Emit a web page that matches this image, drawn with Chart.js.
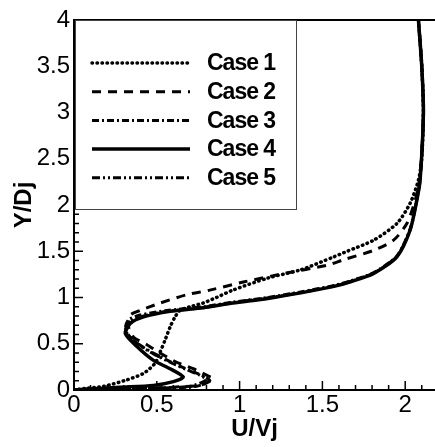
<!DOCTYPE html>
<html>
<head>
<meta charset="utf-8">
<script src="https://cdn.jsdelivr.net/npm/chart.js@4"></script>
<style>
  html, body { margin: 0; padding: 0; background: #fff; overflow: hidden; }
  #wrap { width: 435px; height: 447px; }
</style>
</head>
<body>
<div id="wrap"><canvas id="profileChart"></canvas></div>
<script>
// tick values
const xMajor = [0, 0.5, 1, 1.5, 2];
const yMajor = [0, 0.5, 1, 1.5, 2, 2.5, 3, 3.5, 4];
const caseNames = ['Case 1', 'Case 2', 'Case 3', 'Case 4', 'Case 5'];

// Case 1 (dotted)
const case1U = [0, 0.08, 0.18, 0.32, 0.42, 0.49, 0.52, 0.55, 0.58, 0.61, 0.64, 0.70, 0.78, 0.86, 0.96, 1.17, 1.37, 1.57, 1.65, 1.81, 1.95, 2.03, 2.08, 2.10, 2.11, 2.10, 2.08];
const case1Y = [0, 0.02, 0.04, 0.11, 0.18, 0.29, 0.41, 0.54, 0.68, 0.79, 0.86, 0.90, 0.94, 1.00, 1.08, 1.21, 1.30, 1.44, 1.50, 1.62, 1.80, 2.02, 2.27, 2.5, 3.0, 3.5, 4.0];

// Case 2 (dashed)
const case2U = [0, 0.3, 0.5, 0.64, 0.76, 0.84, 0.80, 0.72, 0.62, 0.52, 0.44, 0.36, 0.33, 0.34, 0.40, 0.52, 0.68, 0.82, 1.03, 1.27, 1.53, 1.63, 1.81, 1.93, 2.01, 2.06, 2.09, 2.11, 2.10, 2.08];
const case2Y = [0, 0.01, 0.02, 0.035, 0.05, 0.12, 0.16, 0.23, 0.30, 0.40, 0.49, 0.57, 0.68, 0.81, 0.86, 0.94, 1.03, 1.08, 1.17, 1.26, 1.35, 1.41, 1.51, 1.62, 1.80, 2.05, 2.3, 3.0, 3.5, 4.0];

// Case 3 (dash-dot)
const case3U = [0, 0.2, 0.5, 0.74, 0.82, 0.78, 0.70, 0.60, 0.50, 0.42, 0.35, 0.31, 0.33, 0.40, 0.56, 0.78, 0.96, 1.17, 1.37, 1.57, 1.67, 1.81, 1.95, 2.03, 2.07, 2.09, 2.11, 2.10, 2.08];
const case3Y = [0, 0.01, 0.02, 0.04, 0.10, 0.15, 0.21, 0.29, 0.38, 0.46, 0.55, 0.66, 0.76, 0.81, 0.86, 0.90, 0.95, 1.00, 1.06, 1.13, 1.18, 1.27, 1.45, 1.74, 2.06, 2.28, 3.0, 3.5, 4.0];

// Case 4 (solid)
const case4U = [0, 0.08, 0.28, 0.48, 0.60, 0.66, 0.58, 0.48, 0.38, 0.31, 0.34, 0.42, 0.58, 0.78, 0.96, 1.17, 1.37, 1.57, 1.67, 1.81, 1.95, 2.03, 2.07, 2.09, 2.11, 2.10, 2.08];
const case4Y = [0, 0.01, 0.03, 0.05, 0.09, 0.14, 0.23, 0.32, 0.47, 0.61, 0.72, 0.79, 0.85, 0.89, 0.94, 0.99, 1.05, 1.12, 1.17, 1.26, 1.44, 1.73, 2.05, 2.27, 3.0, 3.5, 4.0];

// Case 5 (dash-dot-dot)
const case5U = [0, 0.2, 0.48, 0.70, 0.80, 0.76, 0.68, 0.58, 0.48, 0.40, 0.34, 0.31, 0.34, 0.42, 0.58, 0.78, 0.96, 1.17, 1.37, 1.57, 1.67, 1.81, 1.95, 2.03, 2.07, 2.09, 2.11, 2.10, 2.08];
const case5Y = [0, 0.01, 0.02, 0.04, 0.11, 0.16, 0.22, 0.30, 0.39, 0.48, 0.57, 0.65, 0.74, 0.80, 0.855, 0.89, 0.945, 0.995, 1.055, 1.125, 1.175, 1.265, 1.445, 1.735, 2.055, 2.275, 3.0, 3.5, 4.0];

function pts(us, ys) {
  return us.map((u, i) => ({ x: u, y: ys[i] }));
}

const styles = [
  { dash: [0.5, 4.5], cap: 'round', width: 3.5 },
  { dash: [9, 7], cap: 'butt', width: 3 },
  { dash: [7, 3, 2, 3], cap: 'butt', width: 3 },
  { dash: [], cap: 'butt', width: 3.5 },
  { dash: [8, 3, 2, 3, 2, 3], cap: 'butt', width: 3 }
];
const allU = [case1U, case2U, case3U, case4U, case5U];
const allY = [case1Y, case2Y, case3Y, case4Y, case5Y];

const datasets = caseNames.map((name, i) => ({
  label: name,
  data: pts(allU[i], allY[i]),
  showLine: true,
  borderColor: '#000',
  borderWidth: styles[i].width,
  borderDash: styles[i].dash,
  borderCapStyle: styles[i].cap,
  pointRadius: 0,
  tension: 0.25,
  fill: false
}));

// inward ticks, top frame line and boxed legend
const framePlugin = {
  id: 'frame',
  afterDraw(chart) {
    const { ctx, chartArea: a, scales } = chart;
    const xs = scales.x, ys = scales.y;
    ctx.save();
    ctx.strokeStyle = '#000';
    ctx.lineWidth = 1.5;
    for (let k = 0; k <= 22; k++) {
      const v = k / 10;
      if (v > xs.max) break;
      const px = xs.getPixelForValue(v);
      const len = k % 5 === 0 ? 9 : 5;
      ctx.beginPath();
      ctx.moveTo(px, a.bottom);
      ctx.lineTo(px, a.bottom - len);
      ctx.stroke();
    }
    for (let k = 0; k <= 40; k++) {
      const py = ys.getPixelForValue(k / 10);
      const len = k % 5 === 0 ? 9 : 5;
      ctx.beginPath();
      ctx.moveTo(a.left, py);
      ctx.lineTo(a.left + len, py);
      ctx.stroke();
    }
    ctx.lineWidth = 2;
    ctx.beginPath();
    ctx.moveTo(a.left, a.top);
    ctx.lineTo(a.right, a.top);
    ctx.stroke();

    // legend box
    const bx = a.left + 1, by = a.top, bw = 221, bh = 189;
    ctx.fillStyle = '#fff';
    ctx.fillRect(bx, by, bw, bh);
    ctx.strokeStyle = '#444';
    ctx.lineWidth = 1;
    ctx.strokeRect(bx + 0.5, by + 0.5, bw, bh);
    chart.data.datasets.forEach((ds, i) => {
      const cy = by + 43 + i * 28.7;
      ctx.strokeStyle = '#000';
      ctx.lineWidth = ds.borderWidth;
      ctx.lineCap = ds.borderCapStyle;
      ctx.setLineDash(ds.borderDash);
      ctx.beginPath();
      ctx.moveTo(bx + 17, cy);
      ctx.lineTo(bx + 115, cy);
      ctx.stroke();
      ctx.setLineDash([]);
      ctx.fillStyle = '#000';
      ctx.font = 'bold 23px "Liberation Sans", Arial, sans-serif';
      if ('letterSpacing' in ctx) ctx.letterSpacing = '-1px';
      ctx.textBaseline = 'middle';
      ctx.textAlign = 'left';
      ctx.fillText(ds.label, bx + 132, cy + 1);
      if ('letterSpacing' in ctx) ctx.letterSpacing = '0px';
    });
    ctx.restore();
  }
};

const tickFont = { family: '"Liberation Sans", Arial, sans-serif', size: 24, lineHeight: 1 };
const titleFont = { family: '"Liberation Sans", Arial, sans-serif', size: 24, weight: 'bold' };

new Chart(document.getElementById('profileChart'), {
  type: 'scatter',
  data: { datasets },
  options: {
    responsive: true,
    maintainAspectRatio: false,
    animation: false,
    layout: { padding: { top: 20, right: 0, left: 0, bottom: 0 } },
    plugins: { legend: { display: false }, tooltip: { enabled: false } },
    scales: {
      x: {
        type: 'linear',
        min: 0,
        max: 2.18,
        afterBuildTicks: s => { s.ticks = xMajor.map(v => ({ value: v })); },
        afterFit: s => { s.height = 57; },
        grid: { drawOnChartArea: false, drawTicks: false },
        border: { color: '#000', width: 2 },
        ticks: { color: '#000', font: tickFont, padding: 3, maxRotation: 0, callback: v => String(v) },
        title: { display: true, text: 'U/Vj', color: '#000', font: titleFont, padding: { top: 0, bottom: 3 } }
      },
      y: {
        type: 'linear',
        min: 0,
        max: 4,
        afterBuildTicks: s => { s.ticks = yMajor.map(v => ({ value: v })); },
        afterFit: s => { s.width = 74; },
        grid: { drawOnChartArea: false, drawTicks: false },
        border: { color: '#000', width: 2 },
        ticks: { color: '#000', font: tickFont, padding: 4, callback: v => String(v) },
        title: { display: true, text: 'Y/Dj', color: '#000', font: titleFont, padding: { top: 10, bottom: 0 } }
      }
    }
  },
  plugins: [framePlugin]
});
</script>
</body>
</html>
